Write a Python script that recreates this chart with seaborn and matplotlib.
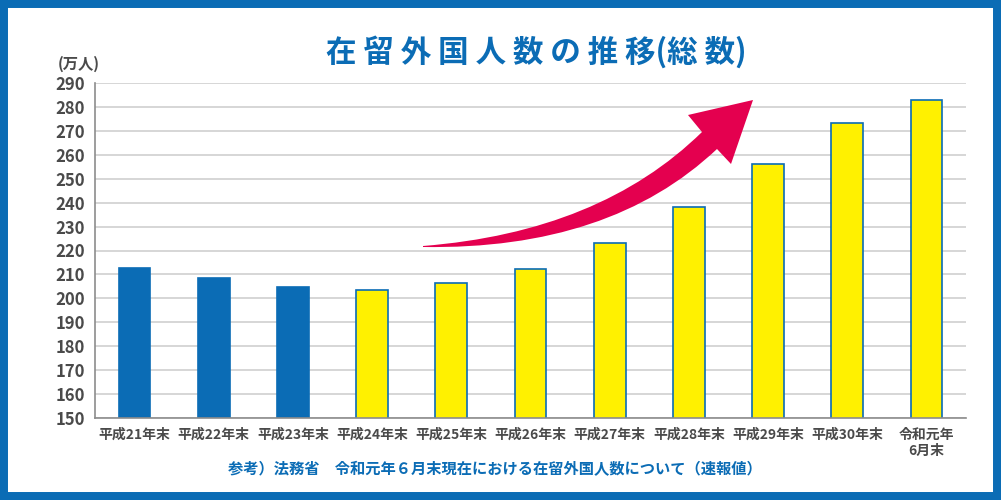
import numpy as np
import pandas as pd
import matplotlib
matplotlib.use("Agg")
import matplotlib.pyplot as plt
from matplotlib.path import Path as MplPath
from matplotlib.patches import PathPatch, Rectangle
import seaborn as sns

# data
categories = ["平成21年末", "平成22年末", "平成23年末", "平成24年末", "平成25年末",
              "平成26年末", "平成27年末", "平成28年末", "平成29年末", "平成30年末",
              "令和元年\n6月末"]
values = [212.6, 208.7, 204.7, 203.4, 206.6, 212.2, 223.2, 238.3, 256.2, 273.1, 282.9]
groups = ["old"] * 3 + ["new"] * 8
y_ticks = list(range(150, 291, 10))

BLUE = "#0b6cb5"
YELLOW = "#fff100"
MAGENTA = "#e4004f"
GRAY = "#4a4a4a"

sns.set_theme(style="white")
plt.rcParams["font.family"] = ["Noto Sans CJK JP", "DejaVu Sans"]

W, H = 1001, 500
fig = plt.figure(figsize=(W / 100, H / 100), dpi=100)
ax = fig.add_axes([95 / W, 1 - 418 / H, (966 - 95) / W, (418 - 83) / H])

df = pd.DataFrame({"cat": categories, "val": values, "grp": groups})
sns.barplot(data=df, x="cat", y="val", hue="grp", palette={"old": BLUE, "new": YELLOW},
            dodge=False, width=0.4, saturation=1, edgecolor=BLUE, linewidth=1.2,
            legend=False, ax=ax)

ax.set_ylim(150, 290)
ax.set_yticks(y_ticks)
ax.set_xlabel("")
ax.set_ylabel("")
ax.yaxis.grid(True, color="#cfcfcf", linewidth=1.2)
ax.set_axisbelow(True)
for s in ["top", "right"]:
    ax.spines[s].set_visible(False)
for s in ["left", "bottom"]:
    ax.spines[s].set_color("#8c8c8c")
    ax.spines[s].set_linewidth(1.2)
ax.tick_params(axis="both", length=0, colors=GRAY)
ax.tick_params(axis="y", pad=7, labelsize=12)
ax.tick_params(axis="x", pad=7, labelsize=10)
for lbl in ax.get_xticklabels() + ax.get_yticklabels():
    lbl.set_fontweight("bold")
    lbl.set_color(GRAY)

# arrow, in image pixel coordinates
def px(x, y):
    return (x / W, 1 - y / H)

verts = [px(423, 246), px(600, 232), px(702, 132), px(688, 115), px(753, 100),
         px(731, 164), px(717, 149), px(610, 250), px(423, 247), px(423, 246)]
codes = [MplPath.MOVETO, MplPath.CURVE3, MplPath.CURVE3, MplPath.LINETO, MplPath.LINETO,
         MplPath.LINETO, MplPath.LINETO, MplPath.CURVE3, MplPath.CURVE3, MplPath.CLOSEPOLY]
fig.patches.append(PathPatch(MplPath(verts, codes), facecolor=MAGENTA, edgecolor="none",
                             transform=fig.transFigure, zorder=5))

# texts
fig.text(536 / W, 1 - 52 / H, "在 留 外 国 人 数 の 推 移(総 数)", ha="center", va="center",
         fontsize=22, fontweight="bold", color=BLUE)
fig.text(79 / W, 1 - 64 / H, "(万人)", ha="center", va="center",
         fontsize=11, fontweight="bold", color=GRAY)
fig.text(495 / W, 1 - 469 / H,
         "参考）法務省　令和元年６月末現在における在留外国人数について（速報値）",
         ha="center", va="center", fontsize=11, fontweight="bold", color=BLUE)

# frame
fig.patches.append(Rectangle((0, 0), 1, 1, transform=fig.transFigure, facecolor="none",
                             edgecolor=BLUE, linewidth=11.5, zorder=10))

fig.savefig("out.png", dpi=100)
